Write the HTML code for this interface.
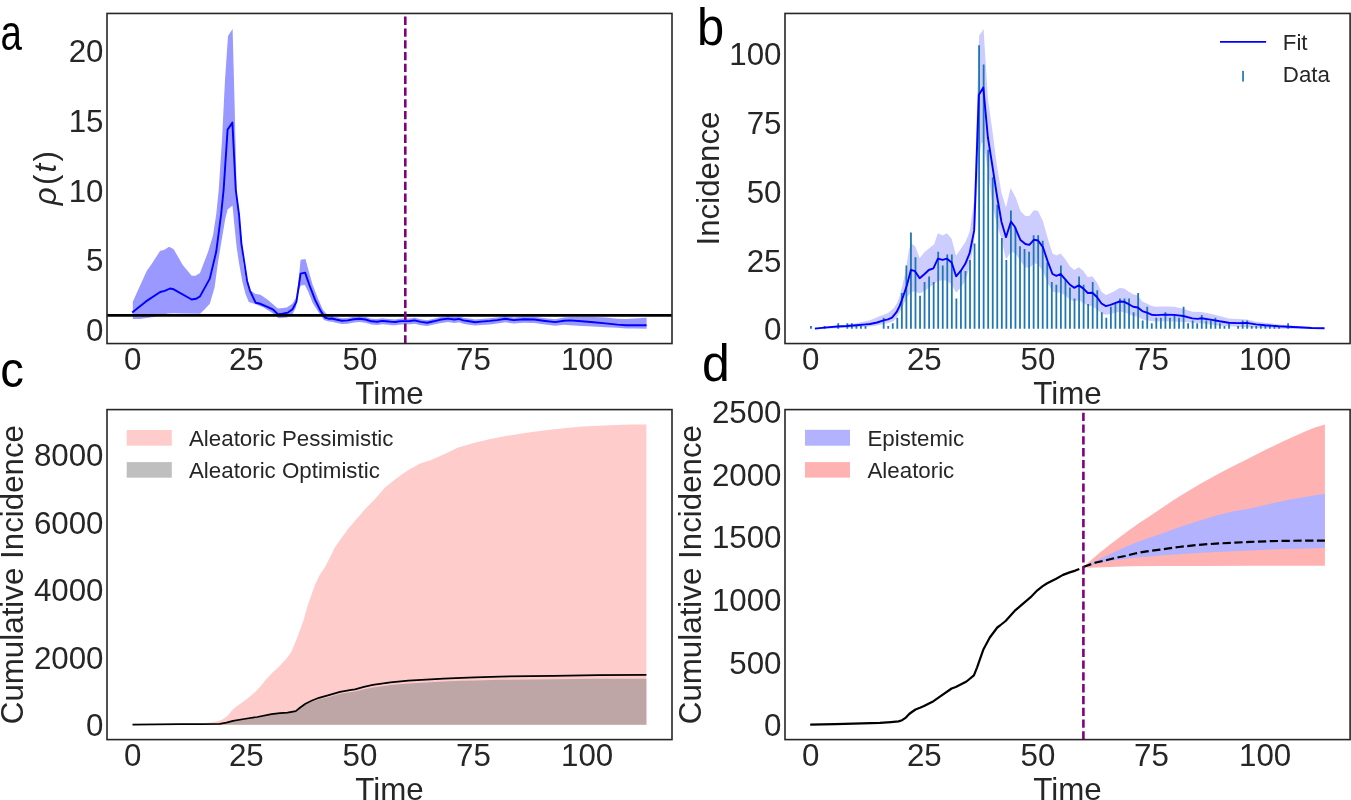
<!DOCTYPE html>
<html><head><meta charset="utf-8"><style>
html,body{margin:0;padding:0;background:#fff;width:1351px;height:800px;overflow:hidden}
svg{display:block;font-family:"Liberation Sans", sans-serif;will-change:transform}
</style></head><body>
<svg width="1351" height="800" viewBox="0 0 1351 800" font-family='"Liberation Sans", sans-serif'>
<rect width="1351" height="800" fill="#fff"/>
<polygon points="132.8,301.7 139.2,287.5 146.7,271.0 152.0,263.5 160.2,250.7 164.0,250.0 169.2,246.7 173.7,249.2 182.7,265.0 191.7,275.8 195.5,275.8 200.0,272.9 208.1,251.8 213.0,235.5 216.2,214.4 218.7,190.0 222.0,140.0 225.0,80.0 228.0,36.0 232.6,29.0 234.5,100.0 236.6,190.0 239.8,230.6 243.1,263.1 246.3,281.0 250.0,290.0 255.2,293.8 260.5,294.8 268.0,300.1 273.2,304.4 277.9,308.6 286.9,307.5 292.5,303.6 295.9,297.9 298.1,285.0 300.6,259.7 305.4,259.1 308.2,269.2 312.7,285.0 318.4,299.6 322.9,309.7 328.0,315.5 331.8,316.0 335.9,317.0 341.8,318.2 347.8,317.9 353.7,316.7 359.6,316.3 365.5,317.0 371.4,318.7 377.3,319.1 382.1,318.3 386.2,318.7 392.1,319.3 395.1,319.4 401.0,318.5 410.0,318.4 414.7,317.8 420.7,319.3 427.2,320.2 433.7,318.7 439.6,317.2 447.9,316.0 454.4,316.8 459.1,316.2 463.3,317.7 469.2,318.6 475.1,319.5 481.0,318.9 490.0,318.2 497.1,317.4 505.4,316.1 513.7,317.4 523.7,316.4 534.4,316.7 543.3,317.9 555.1,319.3 564.0,317.6 570.0,316.9 581.8,317.0 593.7,317.1 605.5,317.5 617.3,318.7 626.2,319.0 635.1,318.5 646.6,317.8 646.6,328.7 635.1,328.6 626.2,328.6 617.3,327.8 605.5,327.2 593.7,326.6 581.8,325.9 570.0,325.2 564.0,324.8 555.1,325.7 543.3,324.3 534.4,323.0 523.7,322.7 513.7,323.6 505.4,322.3 497.1,323.6 490.0,324.4 481.0,325.0 475.1,325.6 469.2,324.7 463.3,323.8 459.1,322.3 454.4,322.9 447.9,322.0 439.6,323.2 433.7,324.6 427.2,326.1 420.7,325.2 414.7,323.7 410.0,324.3 401.0,324.4 395.1,325.3 392.1,325.2 386.2,324.6 382.1,324.2 377.3,325.0 371.4,324.6 365.5,322.8 359.6,322.1 353.7,322.5 347.8,323.7 341.8,324.0 335.9,322.8 331.8,321.8 328.5,321.6 324.0,319.9 318.4,312.0 312.7,303.0 308.2,291.7 304.9,285.0 300.9,285.6 298.7,290.6 295.9,307.5 292.5,314.2 286.9,317.6 278.6,318.2 272.2,313.0 263.7,307.6 256.3,304.4 248.8,302.1 245.5,294.0 242.2,281.0 239.0,263.1 236.6,246.9 234.1,222.5 232.5,205.4 227.6,209.5 225.2,219.2 221.9,238.8 217.9,263.1 214.6,287.5 209.8,303.8 204.0,310.0 200.0,313.7 180.0,313.5 174.0,313.2 168.0,313.6 160.0,315.6 152.0,317.2 140.0,319.0 132.8,319.0" fill="#9999ff"/>
<polyline points="132.2,312.5 146.0,301.4 160.2,292.0 164.7,290.8 170.0,288.5 173.7,289.3 191.7,299.5 196.2,298.7 200.0,296.4 209.8,278.6 216.2,251.8 221.1,214.4 223.6,190.0 227.6,129.6 232.4,122.6 235.8,190.0 239.0,214.4 241.4,243.6 243.9,259.9 247.1,281.0 250.0,290.8 255.6,302.7 259.4,303.5 268.0,307.1 273.2,309.7 277.9,314.2 282.4,313.7 288.0,312.6 292.5,309.2 296.4,301.9 298.1,290.6 300.6,273.7 305.1,272.6 309.4,285.0 315.0,299.6 320.6,310.9 325.1,317.6 328.5,318.7 331.8,318.5 335.9,319.5 341.8,320.7 347.8,320.4 353.7,319.2 359.6,318.8 365.5,319.5 371.4,321.3 377.3,321.7 382.1,320.9 386.2,321.3 392.1,321.9 395.1,322.0 401.0,321.1 410.0,321.0 414.7,320.4 420.7,321.9 427.2,322.8 433.7,321.3 439.6,319.8 447.9,318.6 454.4,319.5 459.1,318.9 463.3,320.4 469.2,321.3 475.1,322.2 481.0,321.6 490.0,320.9 497.1,320.1 505.4,318.8 513.7,320.1 523.7,319.2 534.4,319.5 543.3,320.7 555.1,322.1 564.0,320.7 570.0,320.4 581.8,321.3 593.7,322.2 605.5,323.4 617.3,324.6 626.2,325.3 635.1,325.3 646.6,325.3" fill="none" stroke="#0000ff" stroke-width="1.9" stroke-linejoin="round"/>
<line x1="107.0" y1="315.35" x2="672.0" y2="315.35" stroke="#000" stroke-width="2.85"/>
<line x1="405.3" y1="343.5" x2="405.3" y2="13.45" stroke="#800080" stroke-width="2.6" stroke-dasharray="8.3 3.5"/>
<polygon points="814.9,327.5 842.5,325.5 856.3,323.3 870.0,320.3 879.0,316.6 888.0,313.0 893.4,308.6 897.0,303.2 899.7,296.0 902.4,285.2 905.1,273.5 907.3,260.0 909.0,249.5 911.1,243.0 915.3,246.4 919.7,258.2 924.3,252.3 930.5,247.2 934.2,244.2 937.9,233.2 942.5,235.4 947.0,233.2 951.6,238.8 956.1,255.7 960.7,248.9 965.3,242.2 969.6,232.1 974.2,200.0 976.9,110.0 979.1,35.8 983.6,29.0 984.8,49.3 987.9,98.0 992.4,131.0 997.0,166.0 1001.5,193.0 1006.0,207.5 1010.6,188.0 1015.7,197.4 1020.5,211.0 1025.4,215.9 1029.3,215.9 1034.1,210.0 1038.0,211.0 1042.8,220.7 1047.7,238.1 1052.5,253.6 1056.4,255.6 1060.5,253.4 1065.1,258.9 1069.7,266.1 1074.2,270.0 1078.8,267.2 1083.2,270.7 1087.8,277.3 1092.4,276.2 1096.9,282.5 1101.5,291.7 1105.9,295.0 1110.5,293.0 1115.1,290.7 1119.6,288.0 1124.2,288.4 1128.8,291.7 1133.2,294.3 1137.8,295.6 1142.3,301.6 1146.9,303.5 1151.5,306.1 1156.0,306.8 1160.6,306.5 1165.0,306.5 1174.1,306.7 1183.3,308.7 1192.3,311.7 1201.4,312.0 1210.5,313.7 1219.7,316.0 1228.7,318.4 1237.8,319.1 1246.9,319.6 1255.9,321.7 1265.0,322.7 1278.7,324.4 1287.8,325.3 1298.3,326.3 1311.7,327.1 1324.5,327.7 1324.5,328.9 1278.7,328.7 1255.9,327.7 1237.8,326.7 1219.7,325.7 1201.4,323.3 1183.3,322.0 1165.0,321.2 1156.0,321.6 1151.5,321.2 1146.9,320.3 1142.3,319.3 1137.8,316.6 1133.2,316.0 1128.8,314.0 1124.2,312.1 1119.6,311.7 1115.1,312.7 1110.5,314.0 1105.9,314.7 1101.5,313.4 1096.9,309.4 1092.4,306.1 1087.8,305.5 1083.2,302.9 1078.8,300.2 1074.2,301.5 1069.7,299.6 1065.1,295.6 1060.5,292.4 1056.4,292.4 1052.5,291.4 1047.7,282.7 1042.8,271.1 1038.0,264.3 1034.1,263.3 1029.3,268.2 1025.4,267.2 1020.5,261.4 1015.7,253.6 1010.9,251.7 1006.0,259.5 1001.2,238.1 997.0,225.0 992.4,205.0 987.9,170.0 983.3,142.0 981.5,143.0 978.8,160.0 974.2,242.2 969.6,267.5 965.3,281.0 960.7,287.7 956.1,292.8 951.6,284.4 947.0,280.7 942.5,280.2 937.9,281.0 933.4,284.4 928.8,287.7 924.3,291.1 919.7,293.5 915.0,291.5 911.4,291.9 907.8,296.0 904.2,303.2 900.6,310.4 897.0,317.6 893.4,321.2 888.0,323.0 874.4,326.0 853.1,327.6 814.9,329.2" fill="#ccccff"/>
<path d="M810.07,328.80V326.05h1.8V328.80zM823.70,328.80V326.05h1.8V328.80zM837.33,328.80V323.29h1.8V328.80zM846.42,328.80V323.29h1.8V328.80zM850.97,328.80V323.29h1.8V328.80zM855.51,328.80V326.05h1.8V328.80zM860.05,328.80V326.05h1.8V328.80zM864.60,328.80V326.05h1.8V328.80zM882.77,328.80V317.78h1.8V328.80zM887.32,328.80V326.05h1.8V328.80zM891.86,328.80V323.29h1.8V328.80zM896.41,328.80V317.78h1.8V328.80zM900.95,328.80V293.00h1.8V328.80zM905.49,328.80V265.46h1.8V328.80zM910.04,328.80V232.41h1.8V328.80zM914.58,328.80V257.20h1.8V328.80zM919.13,328.80V295.75h1.8V328.80zM923.67,328.80V281.98h1.8V328.80zM928.21,328.80V276.47h1.8V328.80zM932.76,328.80V281.98h1.8V328.80zM937.30,328.80V251.69h1.8V328.80zM941.85,328.80V265.46h1.8V328.80zM946.39,328.80V254.44h1.8V328.80zM950.93,328.80V254.44h1.8V328.80zM955.48,328.80V298.51h1.8V328.80zM960.02,328.80V270.97h1.8V328.80zM964.57,328.80V270.97h1.8V328.80zM969.11,328.80V259.95h1.8V328.80zM973.65,328.80V243.43h1.8V328.80zM978.20,328.80V45.14h1.8V328.80zM982.74,328.80V64.42h1.8V328.80zM987.29,328.80V149.79h1.8V328.80zM991.83,328.80V177.33h1.8V328.80zM996.37,328.80V204.87h1.8V328.80zM1000.92,328.80V237.92h1.8V328.80zM1005.46,328.80V259.95h1.8V328.80zM1010.01,328.80V210.38h1.8V328.80zM1014.55,328.80V226.90h1.8V328.80zM1019.09,328.80V246.18h1.8V328.80zM1023.64,328.80V248.93h1.8V328.80zM1028.18,328.80V251.69h1.8V328.80zM1032.73,328.80V235.16h1.8V328.80zM1037.27,328.80V235.16h1.8V328.80zM1041.81,328.80V240.67h1.8V328.80zM1046.36,328.80V262.70h1.8V328.80zM1050.90,328.80V281.98h1.8V328.80zM1055.45,328.80V284.74h1.8V328.80zM1059.99,328.80V265.46h1.8V328.80zM1064.53,328.80V279.23h1.8V328.80zM1069.08,328.80V287.49h1.8V328.80zM1073.62,328.80V298.51h1.8V328.80zM1078.17,328.80V276.47h1.8V328.80zM1082.71,328.80V284.74h1.8V328.80zM1087.25,328.80V304.01h1.8V328.80zM1091.80,328.80V281.98h1.8V328.80zM1096.34,328.80V290.24h1.8V328.80zM1100.89,328.80V312.28h1.8V328.80zM1105.43,328.80V317.78h1.8V328.80zM1109.97,328.80V306.77h1.8V328.80zM1114.52,328.80V304.01h1.8V328.80zM1119.06,328.80V298.51h1.8V328.80zM1123.61,328.80V298.51h1.8V328.80zM1128.15,328.80V298.51h1.8V328.80zM1132.69,328.80V312.28h1.8V328.80zM1137.24,328.80V293.00h1.8V328.80zM1141.78,328.80V320.54h1.8V328.80zM1146.33,328.80V306.77h1.8V328.80zM1150.87,328.80V323.29h1.8V328.80zM1155.41,328.80V317.78h1.8V328.80zM1159.96,328.80V317.78h1.8V328.80zM1164.50,328.80V312.28h1.8V328.80zM1169.05,328.80V317.78h1.8V328.80zM1173.59,328.80V315.03h1.8V328.80zM1178.13,328.80V317.78h1.8V328.80zM1182.68,328.80V306.77h1.8V328.80zM1187.22,328.80V323.29h1.8V328.80zM1191.77,328.80V320.54h1.8V328.80zM1196.31,328.80V323.29h1.8V328.80zM1200.85,328.80V315.03h1.8V328.80zM1205.40,328.80V320.54h1.8V328.80zM1209.94,328.80V320.54h1.8V328.80zM1214.49,328.80V317.78h1.8V328.80zM1219.03,328.80V323.29h1.8V328.80zM1223.57,328.80V326.05h1.8V328.80zM1228.12,328.80V323.29h1.8V328.80zM1237.21,328.80V326.05h1.8V328.80zM1241.75,328.80V320.54h1.8V328.80zM1246.29,328.80V320.54h1.8V328.80zM1250.84,328.80V326.05h1.8V328.80zM1255.38,328.80V326.05h1.8V328.80zM1259.93,328.80V326.05h1.8V328.80zM1264.47,328.80V326.05h1.8V328.80zM1269.01,328.80V326.05h1.8V328.80zM1273.56,328.80V326.05h1.8V328.80zM1278.10,328.80V326.05h1.8V328.80zM1287.19,328.80V323.29h1.8V328.80z" fill="#1f77b4"/>
<polyline points="814.9,328.6 824.4,327.6 837.2,326.5 846.8,326.0 856.3,325.2 865.9,324.4 870.0,324.0 877.2,322.5 883.5,320.4 888.0,319.4 892.0,317.6 896.5,312.2 899.7,305.9 903.3,296.0 906.9,285.2 910.9,269.9 915.0,271.2 919.7,278.3 924.3,274.2 928.8,270.0 933.4,268.3 937.9,258.7 942.5,259.9 947.0,258.7 951.6,262.4 956.1,276.3 960.7,270.9 965.3,263.8 969.6,253.2 974.2,230.4 978.8,95.0 983.3,87.6 987.9,137.5 992.4,166.0 997.0,196.0 1001.5,222.0 1006.0,237.2 1010.9,221.7 1014.7,226.5 1020.5,240.1 1025.4,244.0 1029.3,244.9 1034.1,239.7 1038.0,240.5 1042.8,246.9 1047.7,261.4 1052.5,274.0 1056.4,275.9 1060.5,274.0 1065.1,279.2 1069.7,284.5 1074.2,287.8 1078.8,285.4 1083.2,288.4 1087.8,293.0 1092.4,292.8 1096.9,297.0 1101.5,303.5 1105.9,306.1 1110.5,304.8 1115.1,303.1 1119.6,301.5 1124.2,301.8 1128.8,304.2 1133.2,306.8 1137.8,307.5 1142.3,311.1 1146.9,312.7 1151.5,314.7 1156.0,315.1 1160.6,314.9 1165.0,314.7 1174.1,314.9 1183.3,316.0 1192.3,318.4 1197.7,318.9 1201.4,318.3 1210.5,319.6 1219.7,321.3 1228.7,322.7 1237.8,323.1 1246.9,322.9 1255.9,324.4 1265.0,325.3 1278.7,326.3 1287.8,326.7 1298.3,327.3 1311.7,328.0 1324.5,328.3" fill="none" stroke="#0000ff" stroke-width="1.9" stroke-linejoin="round"/>
<line x1="1220" y1="41.9" x2="1266.1" y2="41.9" stroke="#0000ff" stroke-width="1.9"/>
<rect x="1242.2" y="70.9" width="1.7" height="10.7" fill="#1f77b4"/>
<text x="1282.8" y="50" font-size="22.3" fill="#262626">Fit</text>
<text x="1282.8" y="81.6" font-size="22.3" fill="#262626">Data</text>
<polygon points="132.5,724.8 180.0,724.8 200.0,724.4 206.6,723.1 216.5,721.4 222.0,719.8 227.5,715.9 233.0,709.3 238.5,704.9 246.2,699.4 255.0,692.2 260.5,686.2 266.0,679.6 272.6,672.5 279.2,666.4 285.8,659.2 291.0,652.5 295.5,642.0 300.0,630.0 303.8,619.5 307.5,606.0 311.2,595.5 315.0,585.0 319.5,575.2 325.5,566.2 331.5,554.2 335.0,547.3 341.9,537.6 348.8,528.0 357.0,518.4 366.6,507.4 376.2,497.8 384.5,488.1 392.8,481.2 401.0,475.1 409.2,469.6 420.2,463.4 431.2,459.9 442.3,455.1 450.0,451.6 458.1,447.6 474.4,442.7 490.7,439.0 507.0,435.8 523.3,433.3 539.6,430.9 550.0,429.8 566.3,427.9 582.6,426.6 598.9,425.7 615.1,425.0 631.4,424.6 646.4,424.4 646.4,724.8" fill="#ffcccc"/>
<polygon points="132.5,724.6 180.0,724.1 200.0,724.1 219.8,723.8 226.4,722.7 233.0,720.9 244.0,719.0 257.2,717.0 271.5,714.2 280.0,713.2 287.5,712.6 295.8,711.4 300.2,708.0 305.5,704.6 311.5,701.9 319.0,699.3 328.8,696.9 340.0,693.8 351.2,692.0 355.0,691.5 363.9,689.2 372.8,687.4 390.5,685.1 408.3,683.5 426.0,682.4 443.8,681.5 461.6,680.8 475.0,680.4 500.0,679.7 554.0,679.3 598.4,678.8 646.4,678.8 646.4,724.8 132.5,724.8" fill="#bfa6a6"/>
<polyline points="132.5,724.6 180.0,724.1 200.0,724.1 219.8,723.8 226.4,722.7 233.0,720.9 244.0,719.0 257.2,717.0 271.5,714.2 280.0,713.2 287.5,712.6 295.8,711.1 300.2,707.5 305.5,703.8 311.5,700.8 319.0,697.8 328.8,695.1 340.0,691.9 351.2,689.9 355.0,689.3 363.9,686.9 372.8,684.9 390.5,682.4 408.3,680.7 426.0,679.6 443.8,678.6 461.6,677.8 475.0,677.4 500.0,676.6 554.0,675.9 598.4,675.2 646.4,674.9" fill="none" stroke="#000" stroke-width="1.75" stroke-linejoin="round"/>
<rect x="126.7" y="430" width="45.1" height="15.7" fill="#ffcccc"/>
<rect x="126.7" y="462.1" width="45.1" height="15.6" fill="#bfbfbf"/>
<text x="189" y="445.7" font-size="22.3" fill="#262626">Aleatoric Pessimistic</text>
<text x="189" y="477.7" font-size="22.3" fill="#262626">Aleatoric Optimistic</text>
<polygon points="1083.4,566.9 1090.0,561.0 1100.0,552.5 1110.0,544.5 1120.0,537.0 1130.0,529.5 1140.0,522.5 1150.0,516.0 1160.0,509.2 1170.0,502.5 1180.0,496.0 1190.0,490.0 1200.0,484.0 1210.0,478.5 1220.0,473.0 1230.0,467.8 1240.0,462.8 1250.0,457.8 1265.0,450.0 1275.0,445.3 1285.0,440.5 1295.0,436.0 1305.0,431.5 1315.0,427.5 1324.9,424.4 1324.9,565.8 1250.0,565.8 1205.0,566.0 1160.0,565.9 1130.0,566.3 1110.0,566.9 1090.0,567.8 1083.4,567.2" fill="#ffb2b2"/>
<polygon points="1083.4,566.9 1090.0,564.0 1100.0,559.0 1110.0,554.0 1120.0,549.5 1130.0,545.0 1140.0,541.0 1150.0,537.5 1160.0,534.2 1178.8,527.3 1197.5,521.2 1216.2,515.6 1235.0,510.9 1250.0,508.6 1266.2,504.7 1287.5,499.9 1308.8,496.2 1324.9,493.8 1324.9,547.9 1308.8,548.4 1276.9,549.3 1250.0,550.6 1235.0,551.2 1216.2,552.0 1197.5,553.0 1178.8,554.2 1160.0,555.6 1150.0,556.5 1140.0,557.2 1130.0,558.2 1120.0,559.5 1110.0,561.0 1100.0,563.0 1090.0,565.5 1083.4,566.9" fill="#b2b2ff"/>
<polyline points="810.2,724.6 835.5,724.2 862.2,723.3 879.9,722.9 891.0,722.1 898.5,721.4 902.1,720.2 905.9,717.6 909.2,714.0 911.2,712.5 915.5,709.5 920.0,707.8 924.0,706.1 933.5,701.2 941.0,695.9 951.6,688.5 955.8,687.0 966.5,681.5 973.9,675.3 977.1,667.3 983.5,649.2 989.8,637.5 997.3,627.5 1000.0,625.5 1005.6,621.0 1014.6,610.9 1022.5,604.1 1030.4,597.4 1037.1,590.6 1042.7,586.1 1047.2,583.3 1056.2,578.8 1063.0,574.9 1069.7,572.4 1075.4,570.6 1079.3,568.9" fill="none" stroke="#000" stroke-width="2.2" stroke-linejoin="round"/>
<polyline points="1083.4,566.9 1086.0,566.0 1095.0,562.8 1105.0,560.5 1115.0,558.0 1125.0,556.0 1135.0,553.5 1145.0,551.6 1160.0,549.6 1178.8,547.0 1197.5,544.9 1216.2,543.6 1235.0,542.6 1250.0,541.9 1266.2,541.3 1287.5,540.8 1308.8,540.6 1324.9,540.6" fill="none" stroke="#000" stroke-width="2.2" stroke-dasharray="8.3 3.5"/>
<line x1="1083.4" y1="739.6" x2="1083.4" y2="409.6" stroke="#800080" stroke-width="2.6" stroke-dasharray="8.3 3.5"/>
<rect x="805" y="429.8" width="45" height="15.9" fill="#b2b2ff"/>
<rect x="805" y="462.1" width="45" height="15.5" fill="#ffb2b2"/>
<text x="867.5" y="445.7" font-size="22.3" fill="#262626">Epistemic</text>
<text x="867.5" y="477.7" font-size="22.3" fill="#262626">Aleatoric</text>
<rect x="107.0" y="13.45" width="565.0" height="330.1" fill="none" stroke="#262626" stroke-width="1.6"/>
<rect x="785.0" y="13.45" width="565.1" height="330.1" fill="none" stroke="#262626" stroke-width="1.6"/>
<rect x="107.0" y="409.6" width="565.0" height="330.0" fill="none" stroke="#262626" stroke-width="1.6"/>
<rect x="785.0" y="409.6" width="565.1" height="330.0" fill="none" stroke="#262626" stroke-width="1.6"/>
<text x="103.5" y="340.9" font-size="31.3" fill="#262626" text-anchor="end">0</text>
<text x="103.5" y="271.3" font-size="31.3" fill="#262626" text-anchor="end">5</text>
<text x="103.5" y="201.7" font-size="31.3" fill="#262626" text-anchor="end">10</text>
<text x="103.5" y="132.0" font-size="31.3" fill="#262626" text-anchor="end">15</text>
<text x="103.5" y="62.3" font-size="31.3" fill="#262626" text-anchor="end">20</text>
<text x="781.5" y="340.4" font-size="31.3" fill="#262626" text-anchor="end">0</text>
<text x="781.5" y="271.6" font-size="31.3" fill="#262626" text-anchor="end">25</text>
<text x="781.5" y="202.7" font-size="31.3" fill="#262626" text-anchor="end">50</text>
<text x="781.5" y="133.8" font-size="31.3" fill="#262626" text-anchor="end">75</text>
<text x="781.5" y="65.0" font-size="31.3" fill="#262626" text-anchor="end">100</text>
<text x="103.5" y="736.4" font-size="31.3" fill="#262626" text-anchor="end">0</text>
<text x="103.5" y="668.9" font-size="31.3" fill="#262626" text-anchor="end">2000</text>
<text x="103.5" y="601.4" font-size="31.3" fill="#262626" text-anchor="end">4000</text>
<text x="103.5" y="533.8" font-size="31.3" fill="#262626" text-anchor="end">6000</text>
<text x="103.5" y="466.3" font-size="31.3" fill="#262626" text-anchor="end">8000</text>
<text x="781.5" y="736.4" font-size="31.3" fill="#262626" text-anchor="end">0</text>
<text x="781.5" y="673.7" font-size="31.3" fill="#262626" text-anchor="end">500</text>
<text x="781.5" y="611.0" font-size="31.3" fill="#262626" text-anchor="end">1000</text>
<text x="781.5" y="548.2" font-size="31.3" fill="#262626" text-anchor="end">1500</text>
<text x="781.5" y="485.5" font-size="31.3" fill="#262626" text-anchor="end">2000</text>
<text x="781.5" y="422.8" font-size="31.3" fill="#262626" text-anchor="end">2500</text>
<text x="132.7" y="370.2" font-size="31.3" fill="#262626" text-anchor="middle">0</text>
<text x="810.7" y="370.2" font-size="31.3" fill="#262626" text-anchor="middle">0</text>
<text x="132.7" y="766.4" font-size="31.3" fill="#262626" text-anchor="middle">0</text>
<text x="810.7" y="766.4" font-size="31.3" fill="#262626" text-anchor="middle">0</text>
<text x="246.3" y="370.2" font-size="31.3" fill="#262626" text-anchor="middle">25</text>
<text x="924.3" y="370.2" font-size="31.3" fill="#262626" text-anchor="middle">25</text>
<text x="246.3" y="766.4" font-size="31.3" fill="#262626" text-anchor="middle">25</text>
<text x="924.3" y="766.4" font-size="31.3" fill="#262626" text-anchor="middle">25</text>
<text x="359.9" y="370.2" font-size="31.3" fill="#262626" text-anchor="middle">50</text>
<text x="1037.9" y="370.2" font-size="31.3" fill="#262626" text-anchor="middle">50</text>
<text x="359.9" y="766.4" font-size="31.3" fill="#262626" text-anchor="middle">50</text>
<text x="1037.9" y="766.4" font-size="31.3" fill="#262626" text-anchor="middle">50</text>
<text x="473.5" y="370.2" font-size="31.3" fill="#262626" text-anchor="middle">75</text>
<text x="1151.5" y="370.2" font-size="31.3" fill="#262626" text-anchor="middle">75</text>
<text x="473.5" y="766.4" font-size="31.3" fill="#262626" text-anchor="middle">75</text>
<text x="1151.5" y="766.4" font-size="31.3" fill="#262626" text-anchor="middle">75</text>
<text x="587.1" y="370.2" font-size="31.3" fill="#262626" text-anchor="middle">100</text>
<text x="1265.1" y="370.2" font-size="31.3" fill="#262626" text-anchor="middle">100</text>
<text x="587.1" y="766.4" font-size="31.3" fill="#262626" text-anchor="middle">100</text>
<text x="1265.1" y="766.4" font-size="31.3" fill="#262626" text-anchor="middle">100</text>
<text x="389.5" y="403.7" font-size="31.3" fill="#262626" text-anchor="middle">Time</text>
<text x="389.5" y="800.1" font-size="31.3" fill="#262626" text-anchor="middle">Time</text>
<text x="1067.5" y="403.7" font-size="31.3" fill="#262626" text-anchor="middle">Time</text>
<text x="1067.5" y="800.1" font-size="31.3" fill="#262626" text-anchor="middle">Time</text>
<text transform="translate(719.0,178.5) rotate(-90)" x="0" y="0" font-size="31.3" fill="#262626" text-anchor="middle" >Incidence</text>
<text transform="translate(23.0,574.6) rotate(-90)" x="0" y="0" font-size="31.3" fill="#262626" text-anchor="middle" >Cumulative Incidence</text>
<text transform="translate(701.0,574.6) rotate(-90)" x="0" y="0" font-size="31.3" fill="#262626" text-anchor="middle" >Cumulative Incidence</text>
<text transform="translate(55.6,177) rotate(-90)" x="0" y="0" font-size="31.3" fill="#262626" text-anchor="middle" letter-spacing="2.3"><tspan font-style="italic">&#961;</tspan>(<tspan font-style="italic">t</tspan>)</text>
<text transform="translate(0.6,49.8) scale(0.77,1)" font-size="50" fill="#000">a</text>
<text transform="translate(697,45.4) scale(0.94,1)" font-size="52" fill="#000">b</text>
<text transform="translate(0.3,387) scale(0.945,1)" font-size="50" fill="#000">c</text>
<text transform="translate(702,381.2) scale(0.96,1)" font-size="52" fill="#000">d</text>
</svg></body></html>
